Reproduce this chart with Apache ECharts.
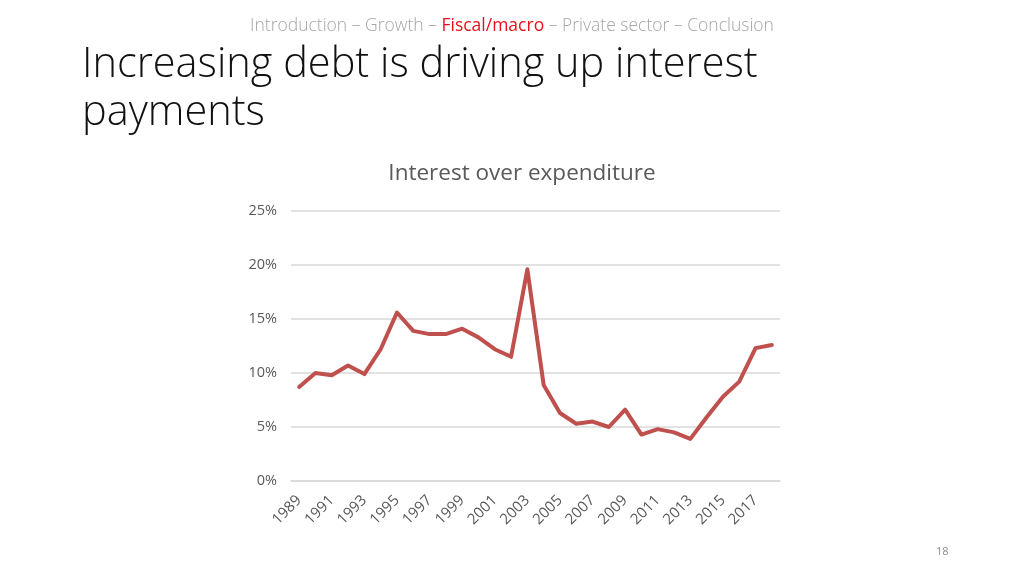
<!DOCTYPE html>
<html><head><meta charset="utf-8">
<script src="https://cdn.jsdelivr.net/npm/echarts@6/dist/echarts.min.js"></script>
<style>html,body{margin:0;padding:0;background:#fff}#c{width:1024px;height:576px}</style>
</head><body><div id="c"></div>
<script>
const years = ['1989','1990','1991','1992','1993','1994','1995','1996','1997','1998','1999','2000','2001','2002','2003','2004','2005','2006','2007','2008','2009','2010','2011','2012','2013','2014','2015','2016','2017','2018'];
const interestShare = [8.7,10.0,9.8,10.7,9.9,12.2,15.6,13.9,13.6,13.6,14.1,13.3,12.2,11.5,19.6,8.9,6.3,5.3,5.5,5.0,6.6,4.3,4.8,4.5,3.9,5.9,7.8,9.2,12.3,12.6];
const yTicks = [0,5,10,15,20,25];

const chart = echarts.init(document.getElementById('c'), null, {renderer:'canvas'});
chart.setOption({
  backgroundColor:'#fff',
  animation:false,
  title:[
    {text:'{g|Introduction – Growth – }{r|Fiscal/macro}{g| – Private sector – Conclusion}', left:'center', top:12,
     textStyle:{rich:{g:{color:'#A6A6A6',fontSize:17.5,fontFamily:'Open Sans',fontWeight:300},r:{color:'#E8101A',fontSize:17.5,fontFamily:'Open Sans',fontWeight:400}}}},
    {text:'Increasing debt is driving up interest\npayments', left:77, top:36,
     textStyle:{color:'#111111',fontSize:41.5,fontFamily:'Open Sans',fontWeight:300,lineHeight:48}},
    {text:'Interest over expenditure', left:517, textAlign:'center', top:157,
     textStyle:{color:'#595959',fontSize:22.5,fontFamily:'Open Sans',fontWeight:400}},
    {text:'18', left:931, top:541, textStyle:{color:'#8C8C8C',fontSize:11,fontFamily:'Open Sans',fontWeight:400}}
  ],
  grid:{left:291, right:244, top:211, bottom:95, containLabel:false},
  xAxis:{type:'category', data:years, boundaryGap:true,
    axisLine:{show:true,lineStyle:{color:'#D9D9D9',width:1.5}}, axisTick:{show:false},
    axisLabel:{interval:1, rotate:45, color:'#595959', fontSize:15, fontFamily:'Open Sans', margin:17}},
  yAxis:{type:'value', min:0, max:25, interval:5,
    axisLine:{show:false}, axisTick:{show:false},
    splitLine:{lineStyle:{color:'#D9D9D9',width:1.5}},
    axisLabel:{formatter:v=>v+'%', color:'#595959', fontSize:14.5, fontFamily:'Open Sans', margin:14}},
  series:[{type:'line', data:interestShare, symbol:'none', lineStyle:{color:'#C0504D',width:4,join:'round',cap:'round'}}]
});
</script></body></html>
